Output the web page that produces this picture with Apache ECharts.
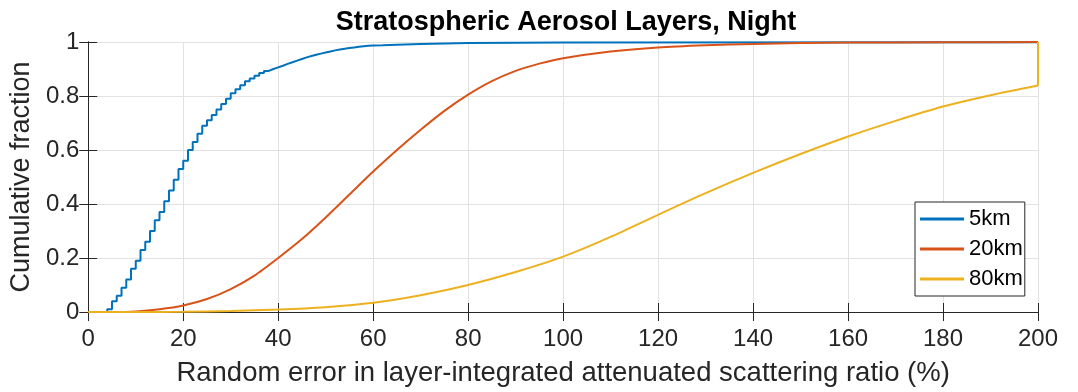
<!DOCTYPE html>
<html>
<head>
<meta charset="utf-8">
<script src="https://cdn.jsdelivr.net/npm/echarts@6/dist/echarts.min.js"></script>
<style>
html, body { margin: 0; padding: 0; background: #fff; }
#chart { width: 1078px; height: 392px; }
</style>
</head>
<body>
<div id="chart"></div>
<script>
// cumulative fraction of random error, three horizontal resolutions
var seriesNames = ['5km', '20km', '80km'];

var blueX = [0, 1, 2, 3, 4, 5, 6, 7, 8, 9, 10, 11, 12, 13, 14, 15, 16, 17, 18, 19, 20,
	21, 22, 23, 24, 25, 26, 27, 28, 29, 30, 31, 32, 33, 34, 35, 36, 37, 38, 39, 40,
	41, 42, 43, 44, 45, 46, 47, 48, 49, 50, 51, 52, 53, 54, 55, 56, 57, 58, 59, 60,
	62, 65, 70, 80, 100, 200];
var blueY = [0, 0, 0, 0, 0.01, 0.04, 0.06, 0.09, 0.12, 0.16, 0.19, 0.23, 0.26, 0.30, 0.34, 0.37, 0.41, 0.45, 0.49, 0.53, 0.56,
	0.60, 0.63, 0.66, 0.69, 0.71, 0.73, 0.75, 0.77, 0.79, 0.81, 0.825, 0.84, 0.855, 0.865, 0.875, 0.885, 0.893, 0.90, 0.906, 0.912,
	0.919, 0.925, 0.931, 0.937, 0.943, 0.948, 0.953, 0.957, 0.961, 0.965, 0.969, 0.972, 0.975, 0.978, 0.980, 0.982, 0.984, 0.986, 0.987, 0.988,
	0.99, 0.993, 0.996, 0.998, 0.999, 1];

var orangeX = [0, 5, 10, 15, 20, 25, 30, 35, 40, 45, 50, 55, 60, 65, 70, 75, 80, 85, 90, 95, 100,
	110, 120, 130, 140, 150, 160, 180, 200];
var orangeY = [0, 0, 0.002, 0.01, 0.024, 0.048, 0.085, 0.135, 0.2, 0.27, 0.35, 0.435, 0.52, 0.6, 0.675, 0.745, 0.805, 0.855, 0.893, 0.92, 0.94,
	0.965, 0.98, 0.988, 0.993, 0.996, 0.998, 0.999, 1];

// 80km curve, then the jump to 1 at the upper edge of the range
var yellowX = [0, 10, 20, 30, 40, 50, 60, 70, 80, 90, 100, 110, 120, 130, 140, 150, 160, 170, 180, 190, 200];
var yellowY = [0, 0, 0.001, 0.004, 0.009, 0.018, 0.034, 0.062, 0.1, 0.148, 0.205, 0.278, 0.36, 0.44, 0.515, 0.585, 0.65, 0.708, 0.761, 0.803, 0.839];
var yellowJumpX = [200, 200];
var yellowJumpY = [0.839, 1];

var xTicks = { min: 0, max: 200, interval: 20 };
var yTicks = { min: 0, max: 1, interval: 0.2 };

function pairs(xs, ys) {
	var out = [];
	for (var i = 0; i < xs.length; i++) out.push([xs[i], ys[i]]);
	return out;
}

var font = 'Liberation Sans, Arial, Helvetica, sans-serif';
var axisColor = '#262626';

var chart = echarts.init(document.getElementById('chart'));

chart.setOption({
	backgroundColor: '#fff',
	animation: false,
	title: {
		text: 'Stratospheric Aerosol Layers, Night',
		left: 561,
		textAlign: 'center',
		top: 4,
		textStyle: { fontFamily: font, fontSize: 27, fontWeight: 'bold', color: '#000' }
	},
	legend: {
		orient: 'vertical',
		left: 915,
		top: 202,
		data: seriesNames,
		icon: 'rect',
		itemWidth: 44,
		itemHeight: 3,
		itemGap: 8,
		padding: [6, 2, 6, 5],
		borderColor: axisColor,
		borderWidth: 1,
		backgroundColor: '#fff',
		textStyle: { fontFamily: font, fontSize: 22, color: '#000', lineHeight: 22 }
	},
	grid: { left: 84, right: 40, top: 42, bottom: 79 },
	xAxis: [{
		type: 'value',
		min: xTicks.min, max: xTicks.max, interval: xTicks.interval,
		name: 'Random error in layer-integrated attenuated scattering ratio (%)',
		nameLocation: 'middle',
		nameGap: 47,
		nameTextStyle: { fontFamily: font, fontSize: 27.5, color: axisColor },
		axisLine: { show: true, lineStyle: { color: axisColor, width: 1 } },
		axisTick: { show: true, inside: true, length: 9, lineStyle: { color: axisColor } },
		axisLabel: { fontFamily: font, fontSize: 24, color: axisColor, margin: 15 },
		splitLine: { show: true, lineStyle: { color: '#e2e2e2', width: 1 } }
	}, {
		type: 'value',
		position: 'top',
		min: xTicks.min, max: xTicks.max, interval: xTicks.interval,
		axisLine: { show: true, lineStyle: { color: axisColor, width: 1 } },
		axisTick: { show: true, inside: true, length: 9, lineStyle: { color: axisColor } },
		axisLabel: { show: false },
		splitLine: { show: false }
	}],
	yAxis: [{
		type: 'value',
		min: yTicks.min, max: yTicks.max, interval: yTicks.interval,
		name: 'Cumulative fraction',
		nameLocation: 'middle',
		nameGap: 40,
		nameTextStyle: { fontFamily: font, fontSize: 27, color: axisColor },
		axisLine: { show: true, lineStyle: { color: axisColor, width: 1 } },
		axisTick: { show: true, inside: true, length: 9, lineStyle: { color: axisColor } },
		axisLabel: { fontFamily: font, fontSize: 24, color: axisColor, margin: 9 },
		splitLine: { show: true, lineStyle: { color: '#e2e2e2', width: 1 } }
	}, {
		type: 'value',
		position: 'right',
		min: yTicks.min, max: yTicks.max, interval: yTicks.interval,
		axisLine: { show: true, lineStyle: { color: axisColor, width: 1 } },
		axisTick: { show: true, inside: true, length: 9, lineStyle: { color: axisColor } },
		axisLabel: { show: false },
		splitLine: { show: false }
	}],
	series: [{
		name: seriesNames[0],
		type: 'line',
		step: 'end',
		showSymbol: false,
		clip: false,
		data: pairs(blueX, blueY),
		itemStyle: { color: '#0072BD' },
		lineStyle: { color: '#0072BD', width: 2 }
	}, {
		name: seriesNames[1],
		type: 'line',
		smooth: 0.25,
		showSymbol: false,
		clip: false,
		data: pairs(orangeX, orangeY),
		itemStyle: { color: '#D95319' },
		lineStyle: { color: '#D95319', width: 2 }
	}, {
		name: seriesNames[2],
		type: 'line',
		smooth: 0.25,
		showSymbol: false,
		clip: false,
		data: pairs(yellowX, yellowY),
		itemStyle: { color: '#EDB120' },
		lineStyle: { color: '#EDB120', width: 2 }
	}, {
		name: seriesNames[2],
		type: 'line',
		showSymbol: false,
		clip: false,
		data: pairs(yellowJumpX, yellowJumpY),
		itemStyle: { color: '#EDB120' },
		lineStyle: { color: '#EDB120', width: 2 }
	}]
});
</script>
</body>
</html>
